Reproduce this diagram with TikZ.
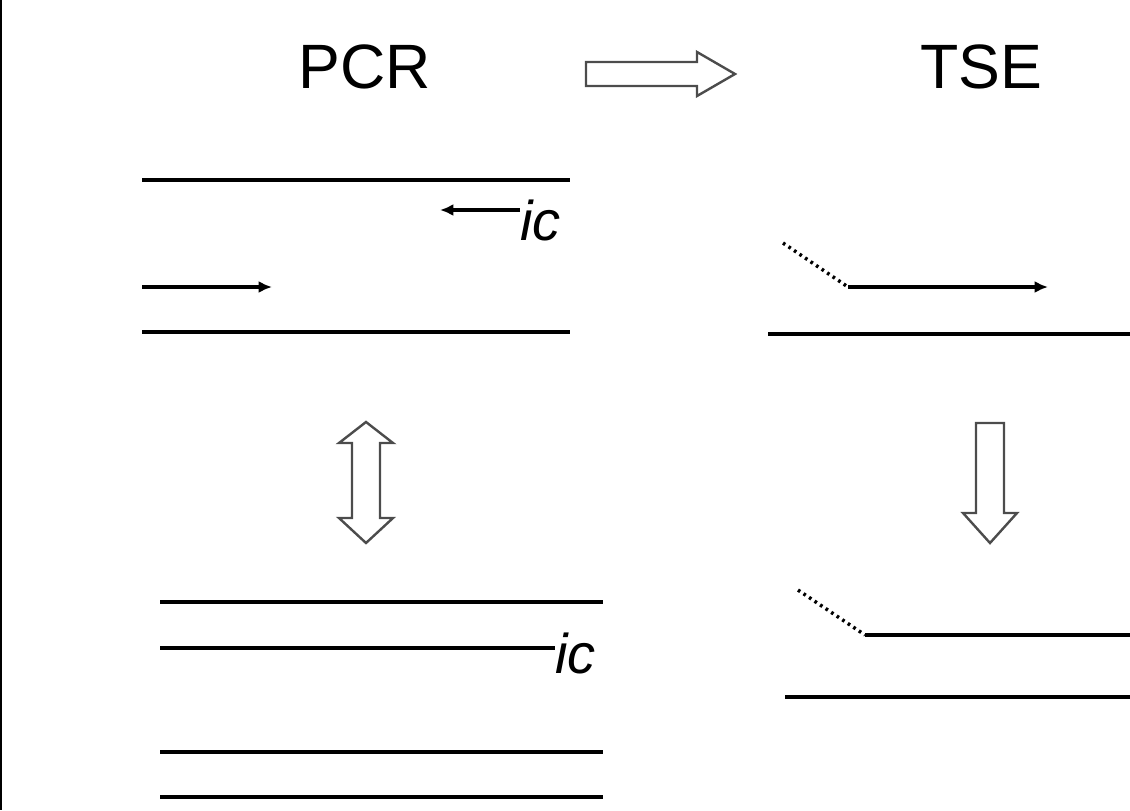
\documentclass[tikz,border=0pt]{standalone}
\usepackage{fontspec}
\setmainfont{Liberation Sans}
\usetikzlibrary{arrows.meta,positioning}

\begin{document}
\begin{tikzpicture}[
  x=0.75pt, y=-0.75pt,
  strand/.style={line width=2.7pt},
  primer/.style={strand, -{Latex[length=10pt,width=9pt]}},
  tail/.style={line width=2.6pt, dash pattern=on 2pt off 3pt},
  bigarr/.style={draw=black!70, line width=1.8pt, line join=miter},
  title/.style={font=\fontsize{47}{50}\selectfont, inner sep=0pt},
  lbl/.style={font=\fontsize{42}{46}\selectfont\itshape, inner sep=0pt, anchor=base west}
]
  \useasboundingbox (0,0) rectangle (1130,810);
  \draw[line width=1.8pt] (1,0) -- (1,810);

  % titles and the step arrow
  \node[title] (pcr) at (365,67) {PCR};
  \node[title] (tse) at (981,67) {TSE};
  \draw[bigarr] (586,62) -- (697,62) -- (697,52) -- (735,74) -- (697,96) -- (697,86) -- (586,86) -- cycle;

  % PCR, annealed template with both primers
  \coordinate (ta) at (142,180);  \coordinate (tb) at (570,180);
  \coordinate (ba) at (142,332);  \coordinate (bb) at (570,332);
  \coordinate (rp) at (520,210);  \coordinate (rq) at (440,210);
  \coordinate (fp) at (142,287);  \coordinate (fq) at (272,287);
  \draw[strand] (ta) -- (tb);
  \draw[strand] (ba) -- (bb);
  \draw[primer] (rp) -- (rq);
  \draw[primer] (fp) -- (fq);
  \node[lbl, yshift=-23pt] (ic1) at (rp) {ic};

  \draw[bigarr] (366,422) -- (393,443) -- (380,443) -- (380,518) -- (393,518) -- (366,543)
    -- (339,518) -- (352,518) -- (352,443) -- (339,443) -- cycle;

  % PCR, products
  \coordinate (p1a) at (160,602); \coordinate (p1b) at (603,602);
  \coordinate (p2a) at (160,648); \coordinate (p2b) at (555,648);
  \coordinate (p3a) at (160,752); \coordinate (p3b) at (603,752);
  \coordinate (p4a) at (160,797); \coordinate (p4b) at (603,797);
  \draw[strand] (p1a) -- (p1b);
  \draw[strand] (p2a) -- (p2b);
  \draw[strand] (p3a) -- (p3b);
  \draw[strand] (p4a) -- (p4b);
  \node[lbl, yshift=-19pt] (ic2) at (p2b) {ic};

  % TSE, single primer with tail
  \coordinate (s1) at (783,243);  \coordinate (s2) at (848,287);
  \coordinate (s3) at (1048,287);
  \coordinate (u1) at (768,334);  \coordinate (u2) at (1130,334);
  \draw[tail] (s1) -- (s2);
  \draw[primer] (s2) -- (s3);
  \draw[strand] (u1) -- (u2);

  \draw[bigarr] (976,423) -- (1004,423) -- (1004,513) -- (1017,513) -- (990,543)
    -- (963,513) -- (976,513) -- cycle;

  % TSE, product
  \coordinate (e1) at (798,590);  \coordinate (e2) at (865,635);
  \coordinate (e3) at (1130,635);
  \coordinate (v1) at (785,697);  \coordinate (v2) at (1130,697);
  \draw[tail] (e1) -- (e2);
  \draw[strand] (e2) -- (e3);
  \draw[strand] (v1) -- (v2);
\end{tikzpicture}
\end{document}
